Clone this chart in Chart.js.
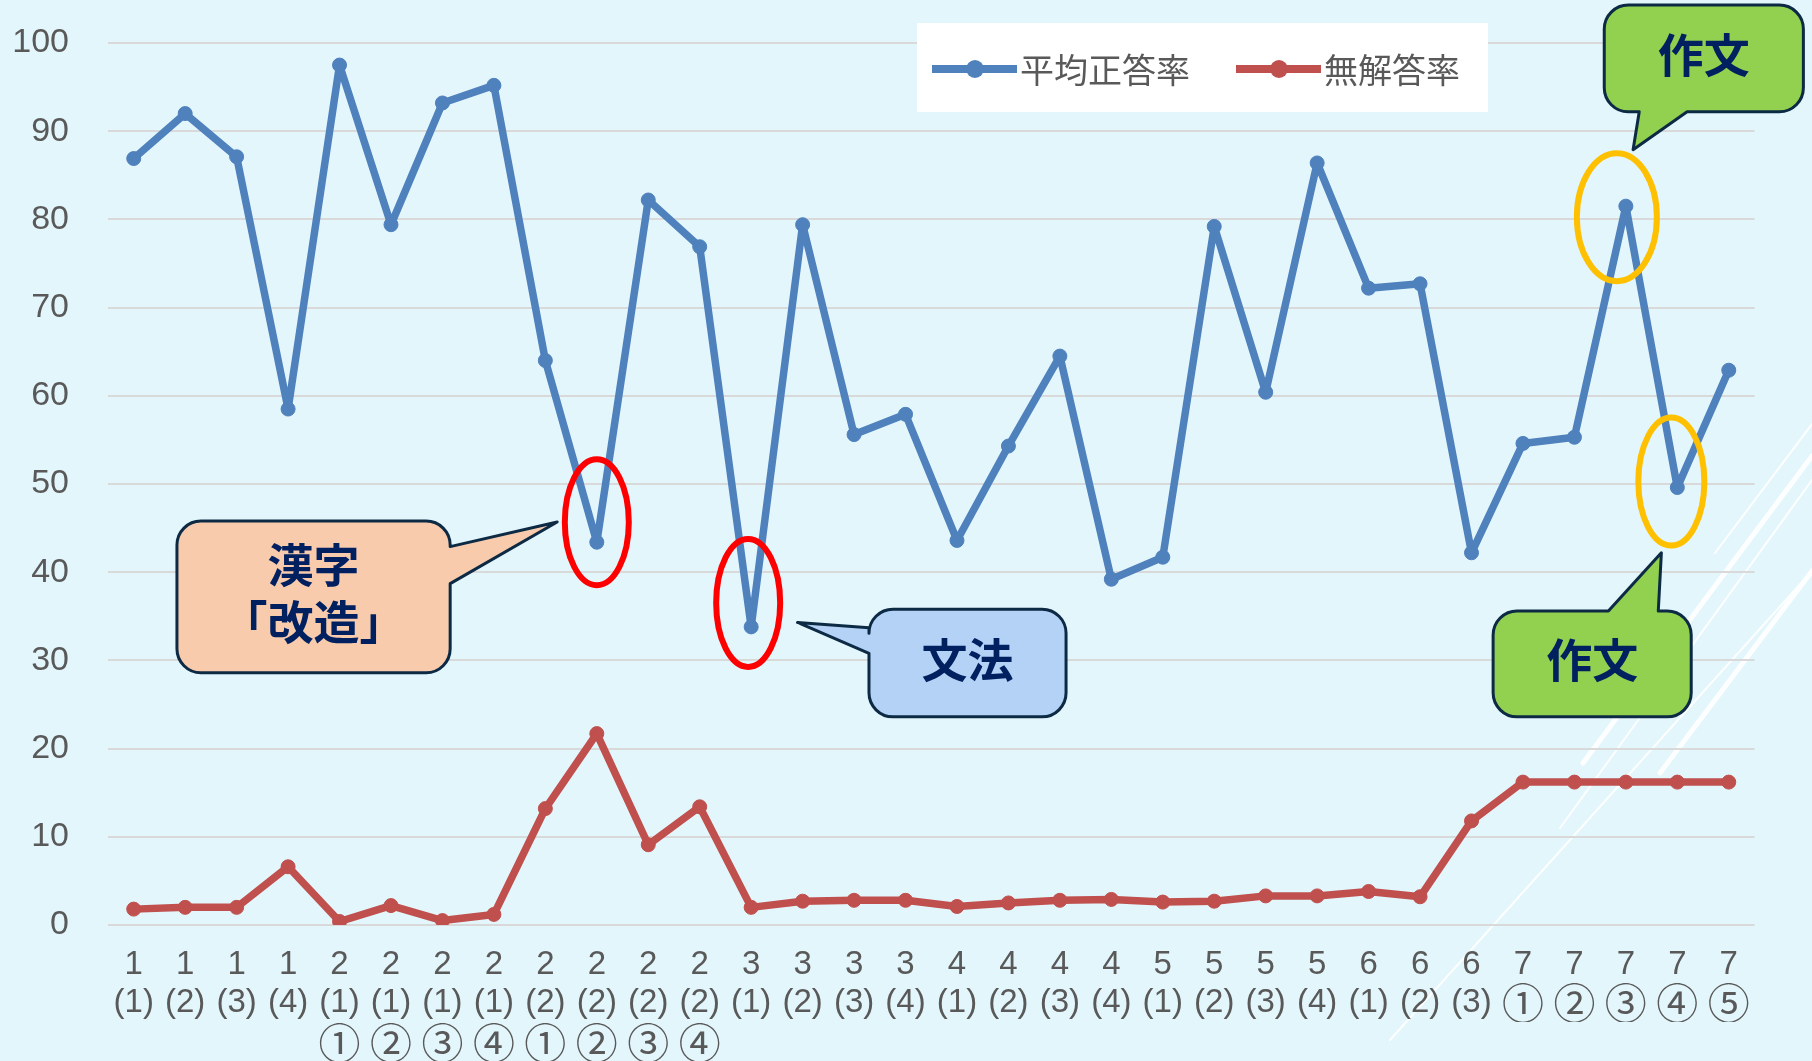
<!DOCTYPE html>
<html>
<head>
<meta charset="utf-8">
<script src="https://cdn.jsdelivr.net/npm/chart.js@4/dist/chart.umd.min.js"></script>
<style>
  html, body { margin: 0; padding: 0; background: #e3f6fc; overflow: hidden; }
  canvas { display: block; }
</style>
</head>
<body>
<canvas id="rateChart" width="1812" height="1061"></canvas>
<script>
// 設問ラベル (改行で段を分ける)
var categories = [
    '1\n(1)', '1\n(2)', '1\n(3)', '1\n(4)',
    '2\n(1)\n①', '2\n(1)\n②', '2\n(1)\n③', '2\n(1)\n④',
    '2\n(2)\n①', '2\n(2)\n②', '2\n(2)\n③', '2\n(2)\n④',
    '3\n(1)', '3\n(2)', '3\n(3)', '3\n(4)',
    '4\n(1)', '4\n(2)', '4\n(3)', '4\n(4)',
    '5\n(1)', '5\n(2)', '5\n(3)', '5\n(4)',
    '6\n(1)', '6\n(2)', '6\n(3)',
    '7\n①', '7\n②', '7\n③', '7\n④', '7\n⑤'
];

var avgRate = [86.9, 92.0, 87.1, 58.5, 97.5, 79.4, 93.2, 95.2, 64.0, 43.4, 82.2, 76.9,
    33.8, 79.4, 55.6, 57.9, 43.6, 54.3, 64.5, 39.2, 41.7, 79.2, 60.4, 86.4,
    72.2, 72.7, 42.2, 54.6, 55.3, 81.5, 49.6, 62.9];

var noAnswerRate = [1.8, 2.0, 2.0, 6.6, 0.4, 2.2, 0.5, 1.2, 13.2, 21.7, 9.1, 13.4,
    2.0, 2.7, 2.8, 2.8, 2.1, 2.5, 2.8, 2.9, 2.6, 2.7, 3.3, 3.3,
    3.8, 3.2, 11.8, 16.2, 16.2, 16.2, 16.2, 16.2];

var seriesNames = ['平均正答率', '無解答率'];

// 強調する設問 (丸で囲む)
var marks = [
    { index: 9, color: '#ff0000', dx: 0, dy: -20, rx: 32, ry: 63 },
    { index: 12, color: '#ff0000', dx: -3, dy: -24, rx: 32, ry: 64 },
    { index: 29, color: '#ffc000', dx: -9, dy: 11, rx: 40, ry: 64 },
    { index: 30, color: '#ffc000', dx: -6, dy: -6, rx: 33, ry: 64 }
];

// 吹き出し (x は設問の位置, y は値の目盛りで指定)
var callouts = [
    { text: ['漢字', '「改造」'], fill: '#f8cbad', x0: 0.84, x1: 6.15, y0: 45.8, y1: 28.6,
      side: 'right', b1: 42.9, b2: 38.7, tipX: 8.23, tipY: 45.7 },
    { text: ['文法'], fill: '#b4d2f6', x0: 14.29, x1: 18.12, y0: 35.8, y1: 23.6,
      side: 'left', b1: 33.7, b2: 30.8, tipX: 12.9, tipY: 34.3 },
    { text: ['作文'], fill: '#92d050', x0: 28.58, x1: 32.45, y0: 104.3, y1: 92.2,
      side: 'bottom', b1: 29.26, b2: 30.19, tipX: 29.14, tipY: 87.9 },
    { text: ['作文'], fill: '#92d050', x0: 26.42, x1: 30.27, y0: 35.6, y1: 23.6,
      side: 'top', b1: 28.66, b2: 29.63, tipX: 29.69, tipY: 42.2 }
];

var BLUE = '#4f81bd';
var RED = '#c0504d';
var TEXT_GRAY = '#595959';

// ラベルを段ごとに分ける (段ごとに別の軸で描く)
var labelRow = function (n) {
    return categories.map(function (c) {
        var parts = c.split('\n');
        return parts[n] || '';
    });
};
var row1 = labelRow(0);
var row2 = labelRow(1);
var row3 = labelRow(2);

var isCircled = function (s) { return /[①-⑳]/.test(s); };

var tickFont = function (s) {
    if (isCircled(s)) {
        return { family: '"Noto Sans CJK JP"', size: 42, lineHeight: '40px' };
    }
    return { family: '"Liberation Sans"', size: 33, lineHeight: '40px' };
};

var xPix = function (chart, i) {
    var xs = chart.scales.x;
    var p0 = xs.getPixelForValue(0);
    var p1 = xs.getPixelForValue(1);
    return p0 + (p1 - p0) * i;
};

var yPix = function (chart, v) {
    return chart.scales.y.getPixelForValue(v);
};

var calloutPath = function (ctx, c, chart) {
    var x0 = xPix(chart, c.x0), x1 = xPix(chart, c.x1);
    var y0 = yPix(chart, c.y0), y1 = yPix(chart, c.y1);
    var tx = xPix(chart, c.tipX), ty = yPix(chart, c.tipY);
    var r = 24;
    ctx.beginPath();
    ctx.moveTo(x0 + r, y0);
    if (c.side == 'top') {
        ctx.lineTo(xPix(chart, c.b1), y0);
        ctx.lineTo(tx, ty);
        ctx.lineTo(xPix(chart, c.b2), y0);
    }
    ctx.arcTo(x1, y0, x1, y0 + r, r);
    if (c.side == 'right') {
        ctx.lineTo(x1, yPix(chart, c.b1));
        ctx.lineTo(tx, ty);
        ctx.lineTo(x1, yPix(chart, c.b2));
    }
    ctx.arcTo(x1, y1, x1 - r, y1, r);
    if (c.side == 'bottom') {
        ctx.lineTo(xPix(chart, c.b2), y1);
        ctx.lineTo(tx, ty);
        ctx.lineTo(xPix(chart, c.b1), y1);
    }
    ctx.arcTo(x0, y1, x0, y1 - r, r);
    if (c.side == 'left') {
        ctx.lineTo(x0, yPix(chart, c.b2));
        ctx.lineTo(tx, ty);
        ctx.lineTo(x0, yPix(chart, c.b1));
    }
    ctx.arcTo(x0, y0, x0 + r, y0, r);
    ctx.closePath();
    return { cx: (x0 + x1) / 2, cy: (y0 + y1) / 2 };
};

var slideDecor = {
    id: 'slideDecor',
    beforeDraw: function (chart) {
        var ctx = chart.ctx;
        ctx.save();
        ctx.fillStyle = '#e3f6fc';
        ctx.fillRect(0, 0, chart.width, chart.height);
        // 右下の斜線
        ctx.strokeStyle = 'rgba(255,255,255,0.9)';
        ctx.lineCap = 'round';
        var lines = [
            [1715, 553, 1812, 424, 2],
            [1583, 763, 1812, 456, 5],
            [1560, 828, 1812, 480, 2],
            [1390, 1040, 1812, 571, 2],
            [1660, 773, 1812, 571, 5]
        ];
        lines.forEach(function (l) {
            ctx.lineWidth = l[4];
            ctx.beginPath();
            ctx.moveTo(l[0], l[1]);
            ctx.lineTo(l[2], l[3]);
            ctx.stroke();
        });
        ctx.restore();
    },
    afterDraw: function (chart) {
        var ctx = chart.ctx;
        ctx.save();

        // 凡例
        ctx.fillStyle = '#ffffff';
        ctx.fillRect(917, 23, 571, 89);
        var legendItems = [
            { x: 932, color: BLUE, label: chart.data.datasets[0].label },
            { x: 1236, color: RED, label: chart.data.datasets[1].label }
        ];
        legendItems.forEach(function (item) {
            ctx.strokeStyle = item.color;
            ctx.lineWidth = 8;
            ctx.beginPath();
            ctx.moveTo(item.x, 69);
            ctx.lineTo(item.x + 85, 69);
            ctx.stroke();
            ctx.fillStyle = item.color;
            ctx.beginPath();
            ctx.arc(item.x + 43, 69, 9, 0, Math.PI * 2);
            ctx.fill();
            ctx.fillStyle = TEXT_GRAY;
            ctx.font = '34px "Noto Sans CJK JP"';
            ctx.textAlign = 'left';
            ctx.textBaseline = 'middle';
            ctx.fillText(item.label, item.x + 88, 70);
        });

        // 丸囲み
        marks.forEach(function (m) {
            var px = xPix(chart, m.index) + m.dx;
            var py = yPix(chart, avgRate[m.index]) + m.dy;
            ctx.strokeStyle = m.color;
            ctx.lineWidth = 6;
            ctx.beginPath();
            ctx.ellipse(px, py, m.rx, m.ry, 0, 0, Math.PI * 2);
            ctx.stroke();
        });

        // 吹き出し
        callouts.forEach(function (c) {
            var center = calloutPath(ctx, c, chart);
            ctx.fillStyle = c.fill;
            ctx.fill();
            ctx.strokeStyle = '#0d2a45';
            ctx.lineWidth = 3;
            ctx.lineJoin = 'round';
            ctx.stroke();
            ctx.fillStyle = '#002060';
            ctx.font = 'bold 46px "Noto Sans CJK JP"';
            ctx.textAlign = 'center';
            ctx.textBaseline = 'middle';
            var lh = 57;
            var top = center.cy - 4 - (c.text.length - 1) * lh / 2;
            c.text.forEach(function (t, k) {
                ctx.fillText(t, center.cx, top + k * lh);
            });
        });

        ctx.restore();
    }
};

// 下の段の軸 (文字だけ)
var rowAxis = function (rowLabels, weight, pad, h) {
    return {
        type: 'category',
        position: 'bottom',
        labels: rowLabels,
        offset: true,
        weight: weight,
        grid: { display: false, drawTicks: false },
        border: { display: false },
        ticks: {
            autoSkip: false,
            maxRotation: 0,
            minRotation: 0,
            padding: pad,
            color: TEXT_GRAY,
            font: function (c) { return tickFont(rowLabels[c.index]); }
        },
        afterFit: function (scale) { scale.height = h; }
    };
};

var ctx = document.getElementById('rateChart');
var rateChart = new Chart(ctx, {
    type: 'line',
    data: {
        labels: row1,
        datasets: [
            {
                label: seriesNames[0],
                data: avgRate,
                borderColor: BLUE,
                backgroundColor: BLUE,
                borderWidth: 7.5,
                borderJoinStyle: 'round',
                pointRadius: 7,
                pointBorderWidth: 1,
                tension: 0
            },
            {
                label: seriesNames[1],
                data: noAnswerRate,
                borderColor: RED,
                backgroundColor: RED,
                borderWidth: 7.5,
                borderJoinStyle: 'round',
                pointRadius: 7,
                pointBorderWidth: 1,
                tension: 0
            }
        ]
    },
    options: {
        responsive: false,
        devicePixelRatio: 1,
        animation: false,
        layout: {
            padding: { top: 43, right: 57.5, bottom: 0, left: 0 }
        },
        plugins: {
            legend: { display: false },
            tooltip: { enabled: false }
        },
        scales: {
            x: rowAxis(row1, 0, 20, 58),
            x2: rowAxis(row2, 1, 0, 39),
            x3: rowAxis(row3, 2, 1, 39),
            y: {
                min: 0,
                max: 100,
                grid: { color: '#d9d9d9', lineWidth: 2, drawTicks: false },
                border: { display: false },
                ticks: {
                    stepSize: 10,
                    padding: 39,
                    color: TEXT_GRAY,
                    font: { family: '"Liberation Sans"', size: 34 }
                },
                afterFit: function (scale) {
                    scale.width = 108;
                    // 目盛りの余白が上端に効かないようにする
                    scale.paddingTop = 20;
                    scale.paddingBottom = 20;
                }
            }
        }
    },
    plugins: [slideDecor]
});
</script>
</body>
</html>
